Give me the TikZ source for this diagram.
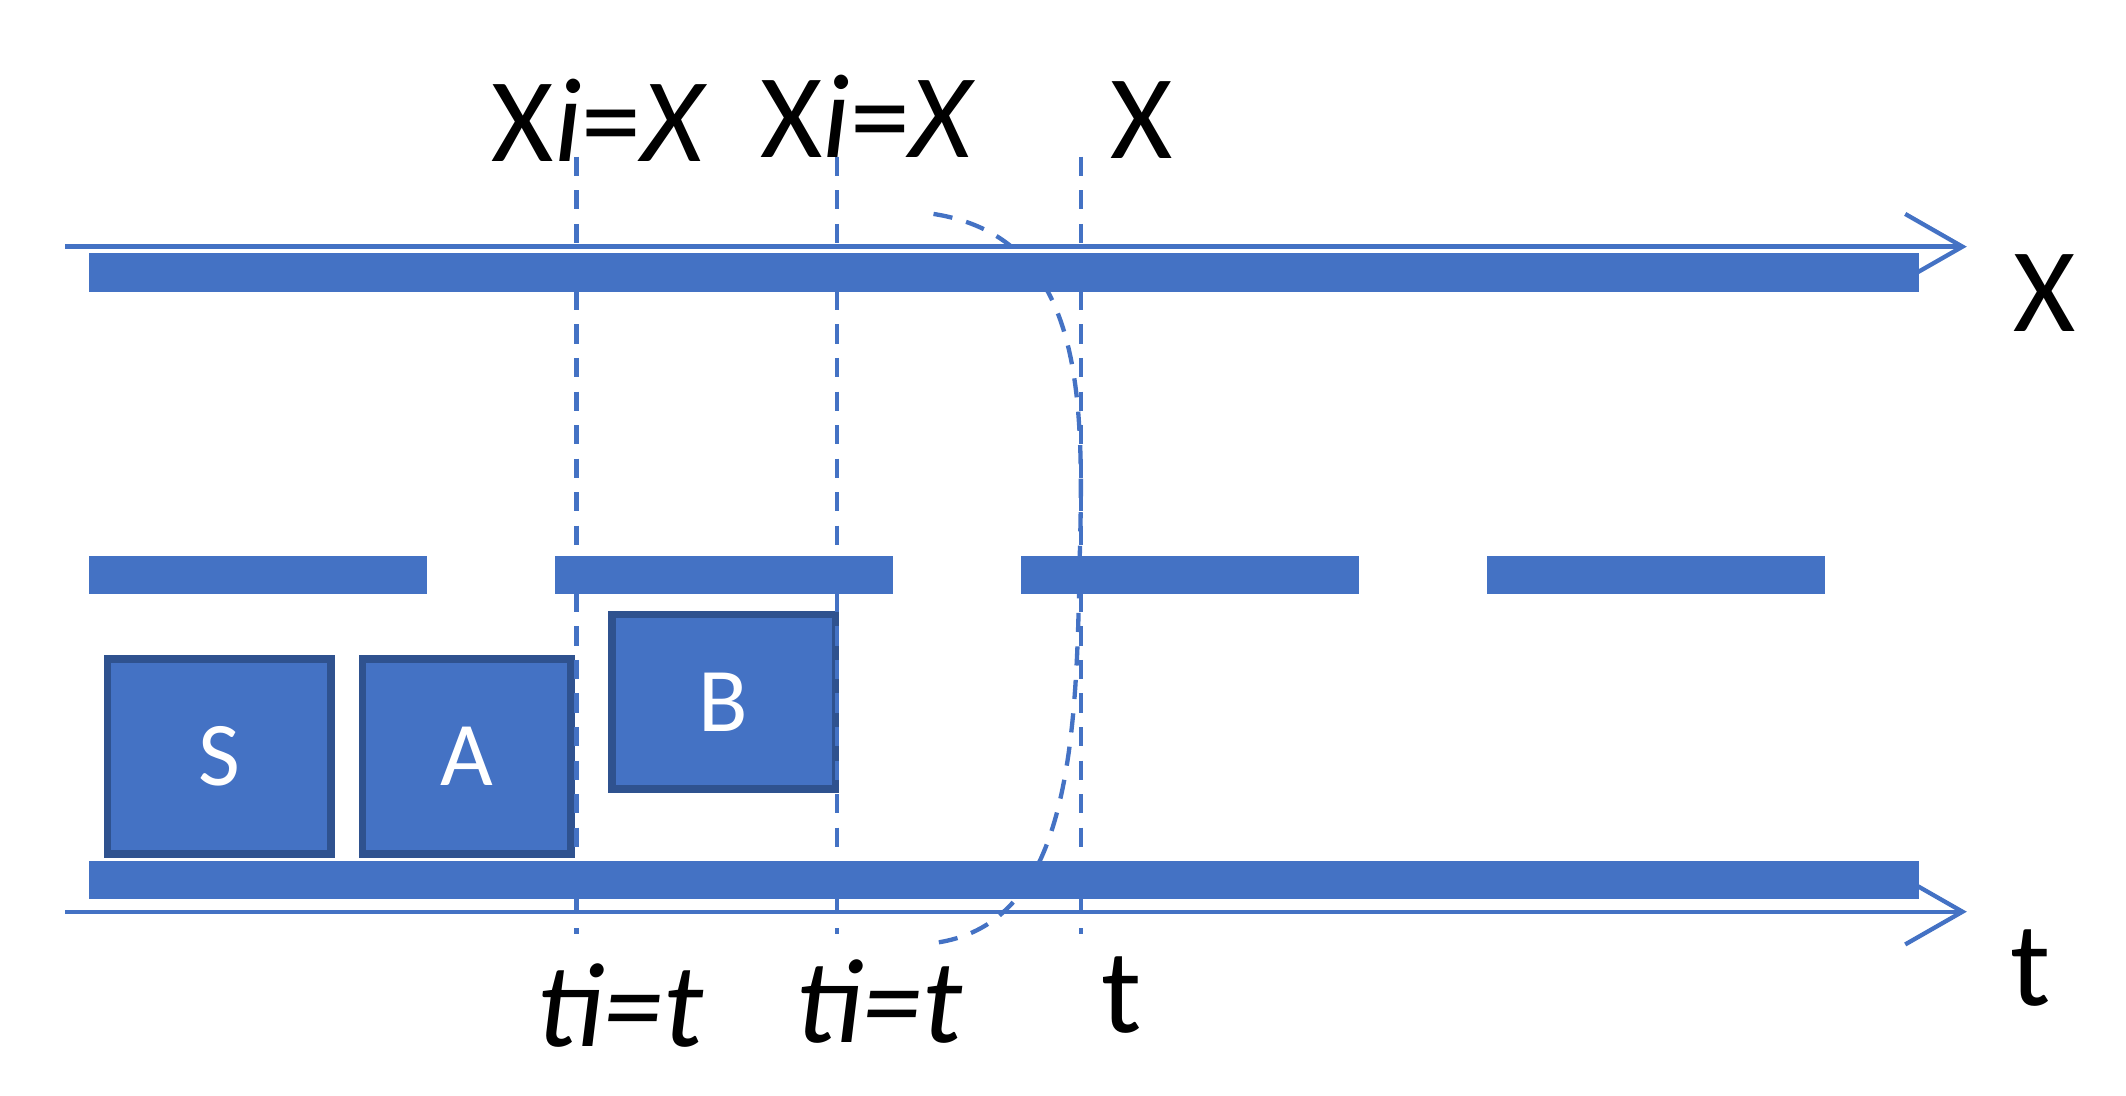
\documentclass[tikz,border=0pt]{standalone}
\usepackage{fontspec}
\setmainfont{Carlito}
\begin{document}
\definecolor{bl}{HTML}{4472C4}
\definecolor{bd}{HTML}{2F528F}
\begin{tikzpicture}[x=0.01cm,y=-0.01cm,
  bar/.style={fill=bl,draw=none},
  ax/.style={draw=bl,line width=0.9pt},
  head/.style={draw=bl,line width=0.9pt},
  box/.style={fill=bl,draw=bd,line width=1.6pt,text=white,font=\fontsize{19}{22}\selectfont},
  dashln/.style={draw=bl,line width=0.9pt,dash pattern=on 4pt off 3pt},
  lab/.style={font=\fontsize{25}{30}\selectfont}]
\useasboundingbox (0,0) rectangle (1560,804);
% axes
\coordinate (x0) at (48,181); \coordinate (x1) at (1440,181);
\coordinate (t0) at (48,669); \coordinate (t1) at (1440,669);
\draw[ax] (x0) -- (x1);
\draw[head] (1398,157) -- (x1) -- (1398,205);
\draw[ax] (t0) -- (t1);
\draw[head] (1398,645) -- (t1) -- (1398,693);
% bars
\fill[bar] (65,186) rectangle (1408,214);
\fill[bar] (65,632) rectangle (1408,660);
\fill[bar] (65,408) rectangle (313,436);
\fill[bar] (407,408) rectangle (655,436);
\fill[bar] (749,408) rectangle (997,436);
\fill[bar] (1091,408) rectangle (1339,436);
% boxes
\node[box,minimum width=1.64cm,minimum height=1.43cm] (S) at (161,555) {S};
\node[box,minimum width=1.53cm,minimum height=1.43cm] (A) at (342.5,555) {A};
\node[box,minimum width=1.64cm,minimum height=1.28cm] (B) at (531,515) {B};
% dashed lines
\coordinate (d1a) at (423,115); \coordinate (d1b) at (423,685);
\coordinate (d2a) at (614,115); \coordinate (d2b) at (614,685);
\coordinate (d3a) at (793,115); \coordinate (d3b) at (793,685);
\draw[dashln] (d1a) -- (d1b);
\draw[dashln] (d2a) -- (d2b);
\draw[dashln] (d3a) -- (d3b);
\coordinate (c0) at (685,157); \coordinate (c1) at (792,420); \coordinate (c2) at (685,692);
\draw[dashln] (c0) .. controls (800,175) and (795,300) .. (c1) .. controls (790,560) and (780,680) .. (c2);
% labels
\node[lab] (lx1) at (440,88) {X\textit{i}=\textit{X}};
\node[lab] (lx2) at (637,85) {X\textit{i}=\textit{X}};
\node[lab] (lx3) at (838,88) {X};
\node[lab] (lX) at (1500,215) {X};
\node[lab] (lt) at (1490,710) {t};
\node[lab] (lt1) at (455,738) {\textit{ti=t}};
\node[lab] (lt2) at (645,735) {\textit{ti=t}};
\node[lab] (lt3) at (823,730) {t};
\end{tikzpicture}
\end{document}
